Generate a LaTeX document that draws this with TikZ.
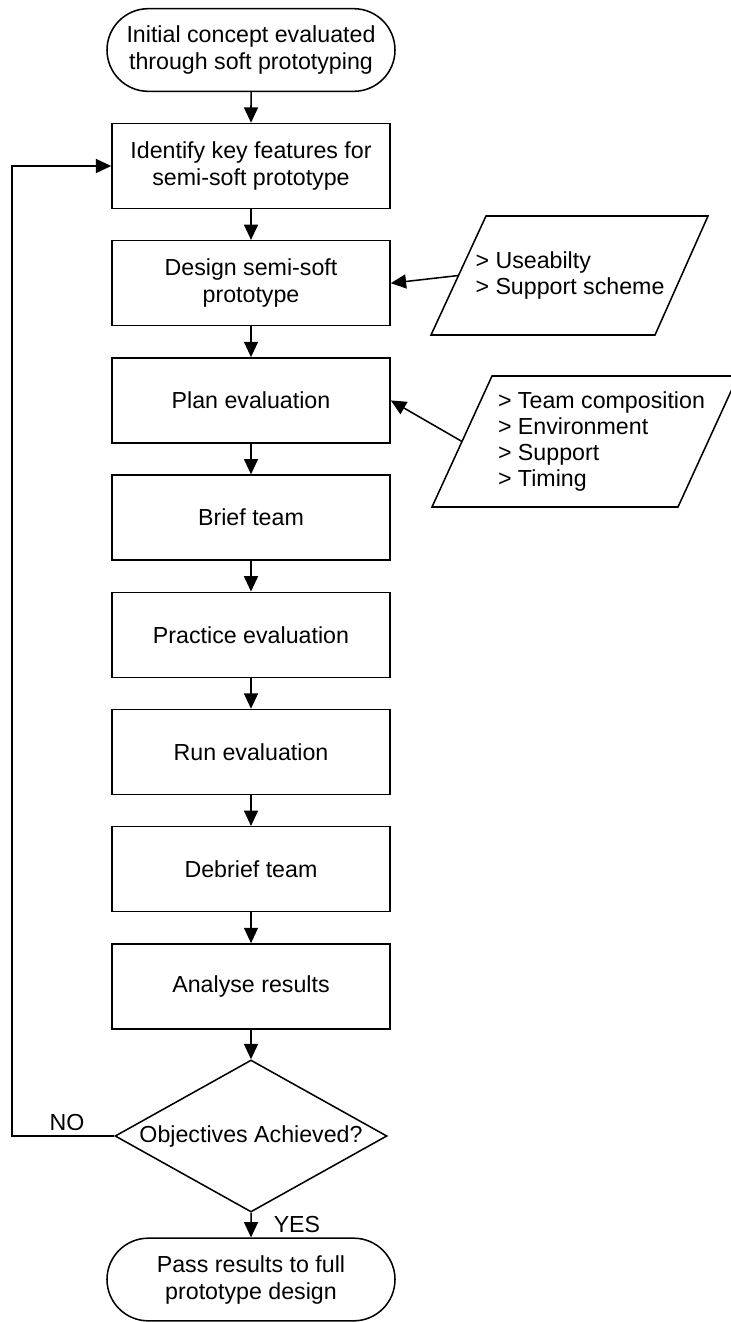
\documentclass[tikz,border=0pt]{standalone}
\usepackage{fontspec}
\setmainfont{Liberation Sans}
\usetikzlibrary{arrows.meta,shapes.geometric,shapes.misc,calc}
\begin{document}
\begin{tikzpicture}[x=0.75pt,y=-0.75pt,line width=1.15pt,
  txt/.style={font=\fontsize{17.4}{20.25}\selectfont},
  procbox/.style={txt,draw,rectangle,minimum width=208.5pt,minimum height=63.75pt,align=center,inner sep=0pt},
  termnode/.style={txt,draw,rounded rectangle,minimum width=216pt,minimum height=62pt,align=center,inner sep=0pt},
  decnode/.style={txt,draw,diamond,aspect=1.79,minimum width=204pt,minimum height=114pt,inner sep=0pt},
  paratext/.style={txt,align=left,inner sep=0pt,font=\fontsize{17.4}{19.5}\selectfont},
  lbl/.style={txt,inner sep=0pt},
  arr/.style={-{Triangle[length=11.5pt,width=10.5pt]}}]
\useasboundingbox (0,0) rectangle (731,1322);
\clip (0,0) rectangle (731,1322);

\node[termnode] (t1) at (251,50) {Initial concept evaluated\\through soft prototyping};
\node[procbox] (b1) at (251,166) {Identify key features for\\semi-soft prototype};
\node[procbox] (b2) at (251,283.2) {Design semi-soft\\prototype};
\node[procbox] (b3) at (251,400.4) {Plan evaluation};
\node[procbox] (b4) at (251,517.6) {Brief team};
\node[procbox] (b5) at (251,634.8) {Practice evaluation};
\node[procbox] (b6) at (251,752) {Run evaluation};
\node[procbox] (b7) at (251,869.2) {Debrief team};
\node[procbox] (b8) at (251,986.4) {Analyse results};
\node[decnode] (d) at (251,1136) {Objectives Achieved?};
\node[termnode] (t2) at (251,1279.5) {Pass results to full\\prototype design};

% parallelograms
\coordinate (p1tl) at (486,216);
\coordinate (p1tr) at (708,216);
\coordinate (p1br) at (655,335);
\coordinate (p1bl) at (431,335);
\draw (p1tl) -- (p1tr) -- (p1br) -- (p1bl) -- cycle;
\coordinate (p1w) at ($(p1tl)!0.5!(p1bl)$);
\node[paratext] (p1) at (570,275.5) {> Useabilty\\> Support scheme};

\coordinate (p2tl) at (492,376);
\coordinate (p2tr) at (738,376);
\coordinate (p2br) at (678,507);
\coordinate (p2bl) at (432,507);
\draw (p2tl) -- (p2tr) -- (p2br) -- (p2bl) -- cycle;
\coordinate (p2w) at ($(p2tl)!0.5!(p2bl)$);
\node[paratext] (p2) at (601.5,441.5) {> Team composition\\> Environment\\> Support\\> Timing};

% connectors
\draw[arr] (t1) -- (b1);
\draw[arr] (b1) -- (b2);
\draw[arr] (b2) -- (b3);
\draw[arr] (b3) -- (b4);
\draw[arr] (b4) -- (b5);
\draw[arr] (b5) -- (b6);
\draw[arr] (b6) -- (b7);
\draw[arr] (b7) -- (b8);
\draw[arr] (b8) -- (d);
\draw[arr] (d) -- (t2);
\draw[arr] (p1w) -- (b2.east);
\draw[arr] (p2w) -- (b3.east);
\coordinate (loopx) at (12,0);
\draw[arr] (d.west) -- (d.west -| loopx) -- (b1.west -| loopx) -- (b1.west);

\node[lbl] (no) at (67,1122) {NO};
\node[lbl,anchor=west] (yes) at (273,1224) {YES};
\end{tikzpicture}
\end{document}
